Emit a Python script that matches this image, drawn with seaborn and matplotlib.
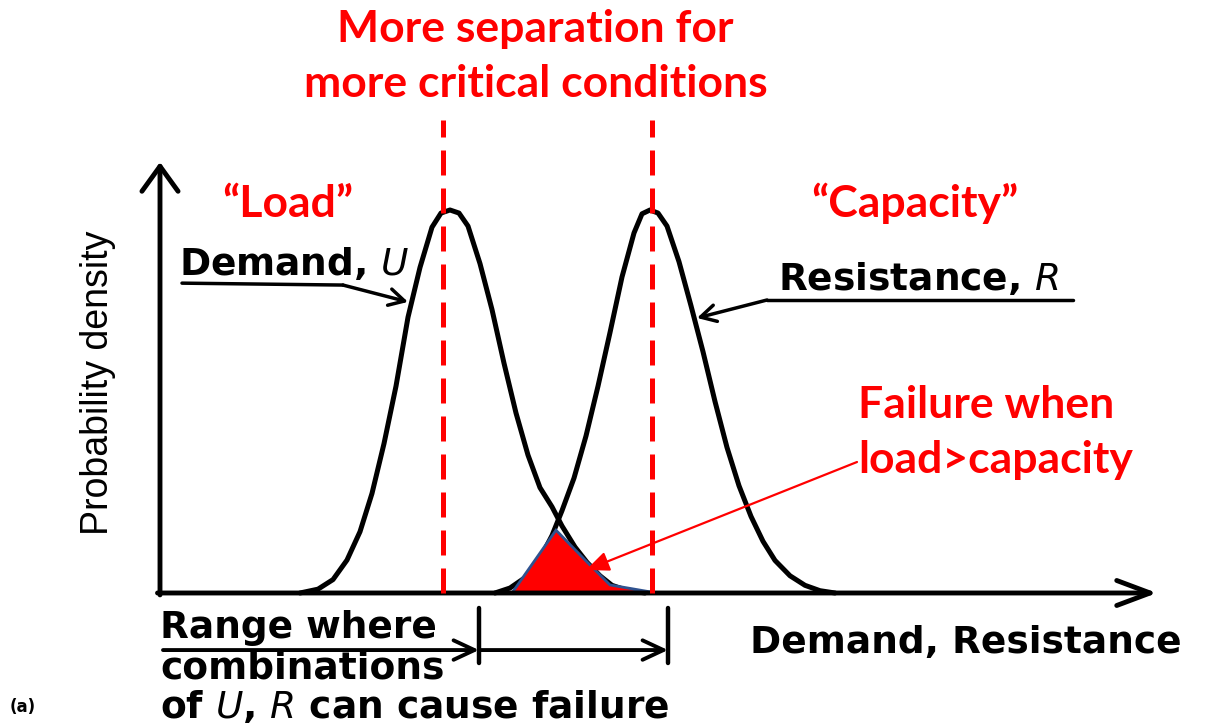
import matplotlib
matplotlib.use("Agg")
import matplotlib.pyplot as plt
import seaborn as sns
import pandas as pd

# Demand (load) curve
demand_x = [14.0, 15.8, 17.3, 18.7, 20.0, 21.2, 22.4, 23.6, 24.8, 26.0, 27.2, 28.1, 29.0,
            29.9, 30.8, 32.0, 33.2, 34.4, 35.6, 36.8, 38.0, 39.2, 40.2, 41.5, 42.7, 44.0,
            45.2, 46.8, 48.5]
demand_pdf = [0.0, 0.01, 0.035, 0.086, 0.16, 0.26, 0.39, 0.54, 0.72, 0.85, 0.955, 0.992, 1.0,
              0.992, 0.958, 0.86, 0.74, 0.60, 0.47, 0.36, 0.275, 0.225, 0.175, 0.12, 0.08,
              0.045, 0.02, 0.006, 0.0]

# Resistance (capacity) curve
resist_x = [33.5, 35.0, 36.5, 38.0, 39.2, 40.2, 41.4, 42.6, 43.8, 45.0, 46.2, 47.4, 48.2, 49.0,
            49.8, 50.7, 51.9, 53.1, 54.3, 55.5, 56.7, 57.9, 59.1, 60.3, 61.5, 63.0, 64.5,
            66.0, 67.5]
resist_pdf = [0.0, 0.013, 0.04, 0.09, 0.15, 0.215, 0.30, 0.41, 0.54, 0.68, 0.825, 0.94, 0.99, 1.0,
              0.992, 0.958, 0.865, 0.75, 0.63, 0.50, 0.38, 0.28, 0.20, 0.135, 0.085, 0.045,
              0.02, 0.006, 0.0]

# Failure zone (overlap) outline
fail_x = [35.2, 39.6, 42.7, 45.0, 49.0]
fail_pdf = [0.0, 0.164, 0.081, 0.021, 0.003]

# Means marked with dashed lines, and failure range ticks
load_mean = 28.3
capacity_mean = 49.2
range_ticks = [31.9, 50.8]

RED = "#FF0000"
BLACK_FONT = "DejaVu Sans"
RED_FONT = "Lato"

sns.set_style("white")
plt.rcParams["mathtext.fontset"] = "dejavusans"

fig = plt.figure(figsize=(12.07, 7.27), dpi=100)
ax = fig.add_axes([0, 0, 1, 1])
ax.set_xlim(-16, 104.7)
ax.set_ylim(-0.3499, 1.5483)
ax.set_axis_off()

curves = pd.concat([
    pd.DataFrame({"x": demand_x, "pdf": demand_pdf, "curve": "Demand"}),
    pd.DataFrame({"x": resist_x, "pdf": resist_pdf, "curve": "Resistance"}),
])
sns.lineplot(data=curves, x="x", y="pdf", units="curve", estimator=None, sort=False,
             color="black", lw=3.6, ax=ax, legend=False,
             solid_joinstyle="round", solid_capstyle="round")

# failure region
ax.fill(fail_x, fail_pdf, facecolor=RED, edgecolor="#2F528F", lw=2, zorder=3)

# dashed mean lines
for xm in [load_mean, capacity_mean]:
    ax.plot([xm, xm], [0, 1.235], color=RED, lw=3.6, ls=(0, (5, 2.6)), zorder=4)

# axes arrows
ax.annotate("", xy=(0, 1.125), xytext=(0, -0.005),
            arrowprops=dict(arrowstyle="->,head_length=1.8,head_width=1.3", lw=3.5,
                            color="black", shrinkA=0, shrinkB=0, mutation_scale=10))
ax.annotate("", xy=(99.7, 0), xytext=(-0.25, 0),
            arrowprops=dict(arrowstyle="->,head_length=2.4,head_width=0.9", lw=3.5,
                            color="black", shrinkA=0, shrinkB=0, mutation_scale=10))

# range of failure combos
y_rng = -0.149
ax.annotate("", xy=(range_ticks[0], y_rng), xytext=(0.3, y_rng),
            arrowprops=dict(arrowstyle="->,head_length=1.5,head_width=0.7", lw=2.8,
                            color="black", shrinkA=0, shrinkB=0, mutation_scale=10))
ax.annotate("", xy=(range_ticks[1], y_rng), xytext=(range_ticks[0], y_rng),
            arrowprops=dict(arrowstyle="->,head_length=1.5,head_width=0.7", lw=2.8,
                            color="black", shrinkA=0, shrinkB=0, mutation_scale=10))
for xt in range_ticks:
    ax.plot([xt, xt], [-0.039, -0.183], color="black", lw=3.2)

# pointer for Demand, U
ax.plot([2.2, 18.3], [0.809, 0.804], color="black", lw=2.5)
ax.annotate("", xy=(24.8, 0.760), xytext=(18.3, 0.804),
            arrowprops=dict(arrowstyle="->,head_length=1.1,head_width=0.6", lw=2.5,
                            color="black", shrinkA=0, shrinkB=0, mutation_scale=10))
# pointer for Resistance, R
ax.plot([91.3, 60.7], [0.765, 0.765], color="black", lw=2.5)
ax.annotate("", xy=(53.7, 0.718), xytext=(60.7, 0.765),
            arrowprops=dict(arrowstyle="->,head_length=1.1,head_width=0.6", lw=2.5,
                            color="black", shrinkA=0, shrinkB=0, mutation_scale=10))

# red arrow to failure zone
ax.annotate("", xy=(42.6, 0.060), xytext=(69.7, 0.342),
            arrowprops=dict(arrowstyle="-|>,head_length=1.4,head_width=0.6", lw=1.6,
                            color=RED, shrinkA=0, shrinkB=0, mutation_scale=10))

# red texts
red_kw = dict(color=RED, fontsize=32, fontweight="bold", family=RED_FONT, va="baseline")
ax.text(37.55, 1.4386, "More separation for", ha="center", **red_kw)
ax.text(37.6, 1.295, "more critical conditions", ha="center", **red_kw)
ax.text(12.75, 0.982, "\u201cLoad\u201d", ha="center", **red_kw)
ax.text(75.5, 0.982, "\u201cCapacity\u201d", ha="center", **red_kw)
ax.text(69.8, 0.457, "Failure when", ha="left", **red_kw)
ax.text(69.8, 0.313, "load>capacity", ha="left", **red_kw)

# black texts
blk_kw = dict(color="black", fontsize=27, fontweight="bold", family=BLACK_FONT, va="baseline")
ax.text(1.9, 0.830, r"Demand, $\mathit{U}$", ha="left", **blk_kw)
ax.text(61.8, 0.791, r"Resistance, $\mathit{R}$", ha="left", **blk_kw)
ax.text(59.0, -0.157, "Demand, Resistance", ha="left", **blk_kw)
ax.text(0.0, -0.1175, "Range where", ha="left", **blk_kw)
ax.text(0.0, -0.222, "combinations", ha="left", **blk_kw)
ax.text(0.0, -0.326, r"of $\mathit{U}$, $\mathit{R}$ can cause failure", ha="left", **blk_kw)
ax.text(-15.0, -0.311, "(a)", ha="left", color="black", fontsize=12, fontweight="bold",
        family=BLACK_FONT, va="baseline")

ax.text(-6.2, 0.548, "Probability density", rotation=90, ha="center", va="center",
        color="black", fontsize=27, family="Liberation Sans")

fig.savefig("out.png", dpi=100)
